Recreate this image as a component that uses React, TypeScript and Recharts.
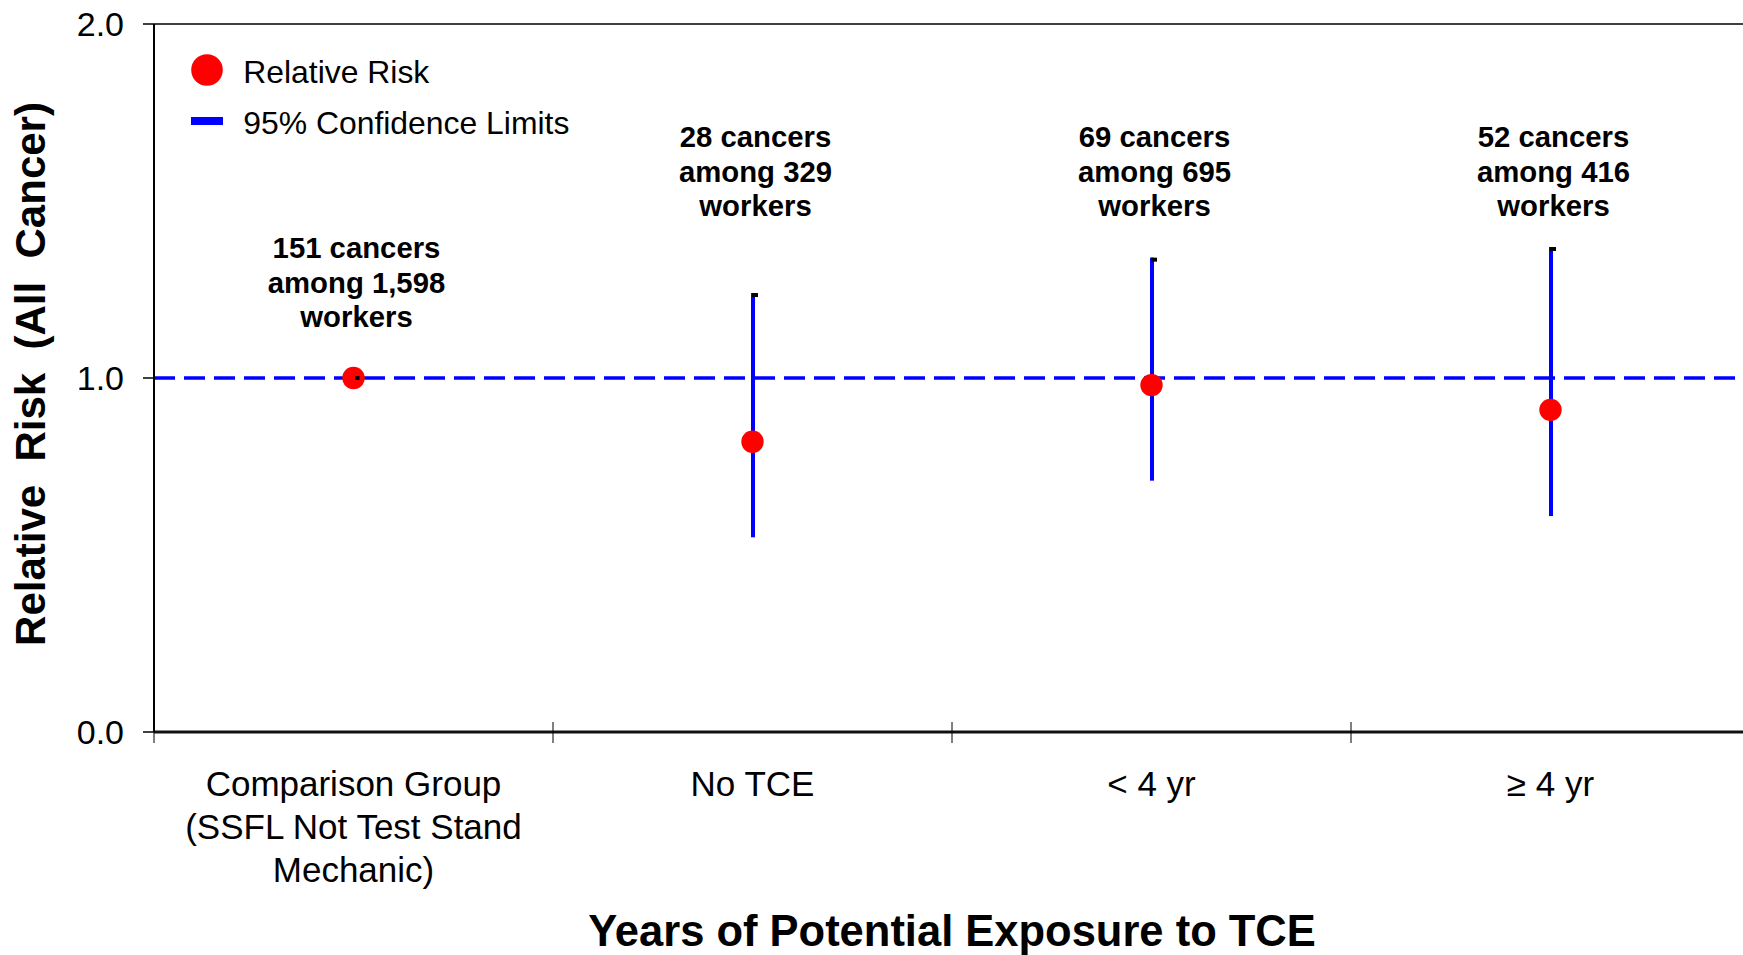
import React from "react";
import {
  ComposedChart,
  Bar,
  Line,
  XAxis,
  YAxis,
  ReferenceLine,
  Legend,
  LabelList,
} from "recharts";

const FONT = '"Liberation Sans", Arial, Helvetica, sans-serif';
const RISK_COLOR = "#ff0000";
const CI_COLOR = "#0000ff";

// exposure groups (line breaks as shown under the axis)
const GROUPS = [
  "Comparison Group\n(SSFL Not Test Stand\nMechanic)",
  "No TCE",
  "< 4 yr",
  "\u2265 4 yr",
];
const RELATIVE_RISK = [1.0, 0.82, 0.98, 0.91];
const CI_LOW: (number | null)[] = [null, 0.55, 0.71, 0.61];
const CI_HIGH: (number | null)[] = [null, 1.24, 1.34, 1.37];
const CANCERS = ["151", "28", "69", "52"];
const WORKERS = ["1,598", "329", "695", "416"];
const Y_TICKS = [0, 1, 2];

const data = GROUPS.map((group, i) => ({
  group,
  rr: RELATIVE_RISK[i],
  ci: CI_LOW[i] == null ? null : [CI_LOW[i], CI_HIGH[i]],
  note: [`${CANCERS[i]} cancers`, `among ${WORKERS[i]}`, "workers"],
}));

const LEGEND_ORDER = ["Relative Risk", "95% Confidence Limits"];

function GroupTick(props: any) {
  const { x, y, payload, width } = props;
  const half = payload.offset ?? width / (2 * GROUPS.length);
  const lines = String(payload.value).split("\n");
  return (
    <g>
      <line x1={x - half} x2={x - half} y1={y - 10} y2={y + 11} stroke="#000" strokeWidth={1} />
      <text x={x} y={y + 64} textAnchor="middle" fontSize={35} fill="#000" fontFamily={FONT}>
        {lines.map((l, i) => (
          <tspan key={i} x={x} dy={i === 0 ? 0 : 42.8}>
            {l}
          </tspan>
        ))}
      </text>
    </g>
  );
}

function CiShape(props: any) {
  const { x, y, width, height } = props;
  if (!height) return <g />;
  return (
    <g>
      <rect x={x} y={y} width={width} height={height} fill={CI_COLOR} />
      <rect x={x + 1} y={y} width={6} height={4} fill="#000" />
    </g>
  );
}

function RiskDot(props: any) {
  const { cx, cy, payload } = props;
  if (cx == null || cy == null) return <g />;
  return (
    <g>
      <circle cx={cx} cy={cy} r={11.2} fill={RISK_COLOR} />
      {payload.ci == null && <rect x={cx + 1.5} y={cy - 2} width={4.5} height={4} fill="#000" />}
    </g>
  );
}

// counts above each group; reference group sits just above its dot, others share a top row
function NoteLabel(props: any) {
  const { x, y, value, index } = props;
  const lines: string[] = value;
  const first = data[index].ci == null ? y - 120 : 147;
  return (
    <text x={x + 3} y={first} textAnchor="middle" fontSize={29.3} fontWeight="bold" fill="#000" fontFamily={FONT}>
      {lines.map((l, i) => (
        <tspan key={i} x={x + 3} dy={i === 0 ? 0 : 34.7}>
          {l}
        </tspan>
      ))}
    </text>
  );
}

function LegendBox({ payload }: any) {
  const items = [...(payload ?? [])].sort(
    (a: any, b: any) => LEGEND_ORDER.indexOf(a.value) - LEGEND_ORDER.indexOf(b.value)
  );
  return (
    <div style={{ fontFamily: FONT, fontSize: 31.9, color: "#000", lineHeight: 1 }}>
      {items.map((it: any) => (
        <div key={it.value} style={{ display: "flex", alignItems: "center", height: 51 }}>
          <svg width={32} height={32} style={{ marginRight: 20.5, flex: "none" }}>
            {it.value === "Relative Risk" ? (
              <circle cx={16} cy={16} r={15.8} fill={RISK_COLOR} />
            ) : (
              <rect x={0} y={12} width={32} height={8} fill={CI_COLOR} />
            )}
          </svg>
          <span style={{ position: "relative", top: 3, whiteSpace: "nowrap" }}>{it.value}</span>
        </div>
      ))}
    </div>
  );
}

export default function App() {
  return (
    <div
      style={{
        position: "fixed",
        left: 0,
        top: 0,
        width: 1743,
        height: 955,
        overflow: "hidden",
        background: "#fff",
      }}
    >
      <ComposedChart width={1760} height={955} data={data} margin={{ top: 24, right: 10, bottom: 0, left: 0 }}>
        <XAxis
          dataKey="group"
          interval={0}
          height={223}
          tick={<GroupTick />}
          tickLine={false}
          tickSize={0}
          tickMargin={0}
          axisLine={{ stroke: "#111", strokeWidth: 3 }}
          label={(p: any) => {
            const vb = p.viewBox;
            return (
              <text
                x={vb.x + vb.width / 2}
                y={946}
                textAnchor="middle"
                fontSize={43.5}
                fontWeight="bold"
                fill="#000"
                fontFamily={FONT}
              >
                Years of Potential Exposure to TCE
              </text>
            );
          }}
        />
        <YAxis
          type="number"
          domain={[0, 2]}
          ticks={Y_TICKS}
          width={154}
          tickFormatter={(v: number) => v.toFixed(1)}
          tick={{ fontSize: 34, fill: "#000", fontFamily: FONT }}
          tickSize={11}
          tickMargin={19}
          tickLine={{ stroke: "#000", strokeWidth: 1.5 }}
          axisLine={{ stroke: "#000", strokeWidth: 2 }}
          label={(p: any) => {
            const vb = p.viewBox;
            const cy = vb.y + vb.height / 2 - 4;
            return (
              <text
                x={45}
                y={cy}
                transform={`rotate(-90 45 ${cy})`}
                textAnchor="middle"
                fontSize={42}
                fontWeight="bold"
                fill="#000"
                fontFamily={FONT}
                style={{ whiteSpace: "pre" }}
              >
                {"Relative  Risk  (All  Cancer)"}
              </text>
            );
          }}
        />
        <ReferenceLine y={2} stroke="#000" strokeWidth={1.5} />
        <ReferenceLine y={1} stroke={CI_COLOR} strokeWidth={3.5} strokeDasharray="21 9" />
        <Legend
          layout="horizontal"
          verticalAlign="middle"
          align="center"
          content={<LegendBox />}
          wrapperStyle={{ left: 190.7, top: 44.7, width: "auto" }}
        />
        <Bar
          dataKey="ci"
          name="95% Confidence Limits"
          barSize={4}
          fill={CI_COLOR}
          shape={<CiShape />}
          legendType="rect"
          isAnimationActive={false}
        />
        <Line
          dataKey="rr"
          name="Relative Risk"
          stroke="none"
          dot={<RiskDot />}
          activeDot={false}
          legendType="circle"
          isAnimationActive={false}
        >
          <LabelList dataKey="note" content={<NoteLabel />} />
        </Line>
      </ComposedChart>
    </div>
  );
}
